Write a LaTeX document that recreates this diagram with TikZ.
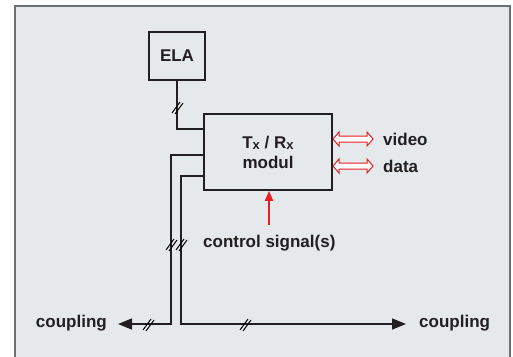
\documentclass[tikz,border=0pt]{standalone}
\usepackage{fontspec}
\setmainfont{Liberation Sans}
\usetikzlibrary{arrows.meta,positioning}

\definecolor{panel}{HTML}{E6E9EC}
\definecolor{frame}{HTML}{6D6E71}
\definecolor{sigred}{HTML}{ED1C24}
\definecolor{ink}{HTML}{231F20}
\newcommand{\labfont}{\fontsize{17}{20}\selectfont\bfseries}

\tikzset{
  pics/cut/.style={code={
    \draw[line width=1pt] (-5,6) -- (3,-5);
    \draw[line width=1pt] (-2,7) -- (6,-4);
  }},
  pics/twoway/.style={code={
    \draw[sigred, line width=1pt, fill=white, line join=miter]
      (0,0) -- (6,-7) -- (6,-3) -- (34,-3) -- (34,-7) -- (40,0)
      -- (34,7) -- (34,3) -- (6,3) -- (6,7) -- cycle;
  }}
}

\begin{document}
\begin{tikzpicture}[x=1pt, y=-1pt,
  box/.style={draw=ink, line width=1.8pt, fill=panel, font=\labfont,
              text=ink, align=center, inner sep=0pt},
  wire/.style={draw=ink, line width=1.5pt},
  lbl/.style={font=\labfont, text=ink, inner sep=0pt},
  >={Triangle[length=14pt,width=11pt]}
]
\useasboundingbox (0,0) rectangle (513,356);
\clip (0,0) rectangle (513,356);
\draw[frame, line width=1.2pt, fill=panel] (15,6) rectangle (510,380);

\node[box, minimum width=56pt, minimum height=48pt] (ela) at (177,56) {ELA};
\node[box, minimum width=128pt, minimum height=76pt] (modul) at (268,152)
  {T\raisebox{-1pt}{\fontsize{13}{13}\selectfont x} / R\raisebox{-1pt}{\fontsize{13}{13}\selectfont x}\\modul};

% wires to the left
\coordinate (bendA) at (177,129);
\coordinate (inB)   at (204,155);
\coordinate (inC)   at (204,176);
\coordinate (downB) at (171,324);
\coordinate (downC) at (181,324);
\coordinate (endL)  at (118,324);
\coordinate (endR)  at (406,324);

\draw[wire] (ela.south) -- (bendA) -- (modul.west |- bendA);
\draw[wire, ->] (modul.west |- inB) -| (downB) -- (endL);
\draw[wire, ->] (modul.west |- inC) -| (downC) -- (endR);

\pic at (177,107) {cut};
\pic at (171,244) {cut};
\pic at (181,244) {cut};
\pic at (148,324) {cut};
\pic at (245,324) {cut};

\node[lbl, anchor=east] (cplL) at (107,323) {coupling};
\node[lbl, anchor=west] (cplR) at (419,323) {coupling};

% red signals
\coordinate (vidS) at (333,139);
\coordinate (datS) at (333,166);
\pic at (vidS) {twoway};
\pic at (datS) {twoway};
\node[lbl, anchor=west] (video) at (383,139) {video};
\node[lbl, anchor=west] (data)  at (383,166) {data};

\node[lbl, anchor=west] (ctrl) at (203,243) {control signal(s)};
\coordinate (ctrlS) at (269,225);
\draw[draw=sigred, line width=1.8pt, -{Triangle[length=10pt,width=8pt]}, sigred]
  (ctrlS) -- (ctrlS |- modul.south);
\end{tikzpicture}
\end{document}
